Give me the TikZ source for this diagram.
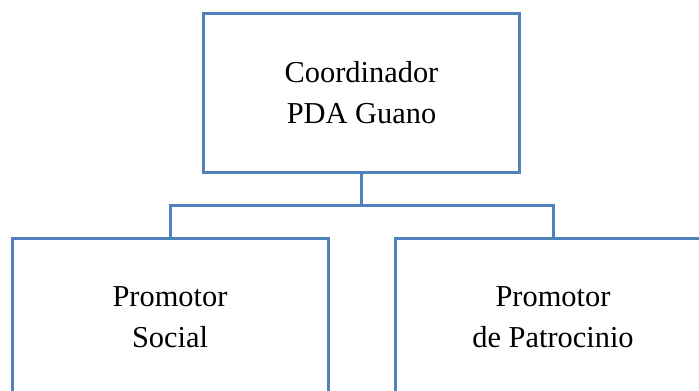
\documentclass[tikz,border=0pt]{standalone}
\usepackage{fontspec}
\setmainfont{Liberation Serif}
\definecolor{orgblue}{RGB}{79,129,189}
\tikzset{
	orgbox/.style={draw=orgblue,line width=1.5pt,rectangle,minimum width=158pt,minimum height=79pt,inner sep=0pt,align=center,font=\fontsize{15.2}{20.5}\selectfont},
	orgline/.style={draw=orgblue,line width=1.5pt}
}
\begin{document}
\begin{tikzpicture}
		\useasboundingbox(0,0)rectangle(349.5pt,-195pt);
		\clip(0,0)rectangle(349.5pt,-195pt);
		\node[orgbox](coord)at(180.75pt,-46.5pt){Coordinador\\PDA Guano};
		\node[orgbox](social)at(85pt,-158.5pt){Promotor\\Social};
		\node[orgbox](patro)at(276.5pt,-158.5pt){Promotor\\de Patrocinio};
		\coordinate(fork)at(coord.south|-0,-102.5pt);
		\draw[orgline](coord.south)--(fork);
		\foreach \k in {social,patro} {
			\draw[orgline](fork)-|(\k.north);
		}
	\end{tikzpicture}
\end{document}
